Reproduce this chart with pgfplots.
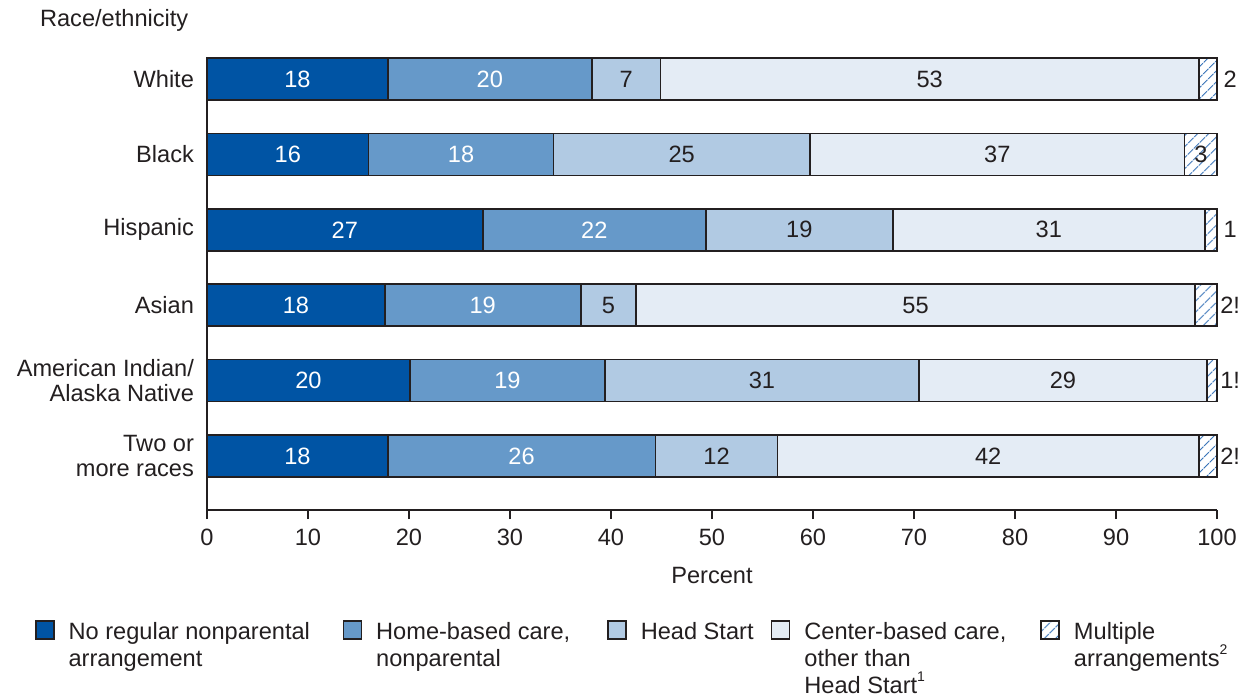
\documentclass[border=0pt]{standalone}
\usepackage{pgfplots}
\pgfplotsset{compat=1.18}
\usepackage{pgfplotstable}
\usetikzlibrary{patterns.meta}
\usepackage{fontspec}
\setmainfont{Liberation Sans}
\definecolor{c1}{HTML}{0054A4}
\definecolor{c2}{HTML}{6699C9}
\definecolor{c3}{HTML}{B1CAE3}
\definecolor{c4}{HTML}{E4ECF5}
\definecolor{hatch}{HTML}{2F6DB5}
\definecolor{edge}{HTML}{231F20}
\definecolor{txt}{HTML}{231F20}
\newcommand\lab{\fontsize{11.8}{12.5}\selectfont}
\newcommand\leg{\fontsize{11.8}{13.5}\selectfont}
\newcommand\fnsup[1]{\raisebox{0.9ex}{\fontsize{7}{7}\selectfont #1}}

\pgfplotstableread{
y a    b    c    d    e   es   la lb lc ld le
5 17.9 20.2 6.8  53.3 1.8 2.2  18 20 7  53 2
4 16.0 18.3 25.4 37.1 3.2 0.0  16 18 25 37 3
3 27.3 22.1 18.5 30.9 1.2 1.9  27 22 19 31 1
2 17.6 19.4 5.5  55.3 2.2 2.4  18 19 5  55 2!
1 20.1 19.3 31.1 28.5 1.0 1.8  20 19 31 29 1!
0 17.9 26.5 12.1 41.7 1.8 2.2  18 26 12 42 2!
}\data

\pgfplotsset{
  seglabel/.style={nodes near coords, point meta=explicit symbolic,
    every node near coord/.append style={anchor=center, font=\lab, inner sep=0pt}},
}

\begin{document}
\begin{tikzpicture}[font=\lab, text=txt]
\begin{axis}[
  name=ax, at={(0,0)}, anchor=south west,
  scale only axis, width=505pt, height=226pt,
  xbar stacked, bar width=0.557,
  xmin=0, xmax=100, ymin=-0.716, ymax=5.2785,
  clip=false,
  axis x line*=bottom, axis y line*=left,
  axis line style={draw=edge, line width=0.8pt},
  xtick={0,10,...,100}, xtick align=outside, major tick length=4.5pt,
  xtick style={draw=edge, line width=0.8pt},
  ytick={0,1,2,3,4,5},
  yticklabels={{Two or\\more races},{American Indian/\\Alaska Native},Asian,Hispanic,Black,White},
  ytick style={draw=none},
  yticklabel style={align=right, font=\lab, xshift=-3pt},
  xticklabel style={font=\lab, yshift=-1.5pt},
  /pgf/number format/assume math mode=true,
  xlabel={Percent},
  xlabel style={at={(axis description cs:0.5,0)}, anchor=base, yshift=-36.5pt, font=\lab},
  legend columns=5,
  legend image code/.code={\draw[#1] (0pt,0pt) rectangle (9pt,9pt);},
  legend style={draw=none, fill=none, inner sep=0pt, outer sep=0pt,
    at={(axis description cs:0,0)}, anchor=north west, xshift=-86pt, yshift=-54pt,
    font=\leg, cells={anchor=base west},
    /tikz/every odd column/.append style={column sep=5pt}},
]
\addplot[fill=c1, draw=edge, line width=0.8pt, seglabel,
  every node near coord/.append style={text=white}]
  table[x=a, y=y, meta=la] {\data};
\addlegendentry{\parbox[t]{135pt}{No regular nonparental\\arrangement}}
\addplot[fill=c2, draw=edge, line width=0.8pt, seglabel,
  every node near coord/.append style={text=white}]
  table[x=b, y=y, meta=lb] {\data};
\addlegendentry{\parbox[t]{113.5pt}{Home-based care,\\nonparental}}
\addplot[fill=c3, draw=edge, line width=0.8pt, seglabel,
  every node near coord/.append style={text=txt}]
  table[x=c, y=y, meta=lc] {\data};
\addlegendentry{\parbox[t]{63pt}{Head Start}}
\addplot[fill=c4, draw=edge, line width=0.8pt, seglabel,
  every node near coord/.append style={text=txt}]
  table[x=d, y=y, meta=ld] {\data};
\addlegendentry{\parbox[t]{116pt}{Center-based care,\\other than\\Head Start\fnsup{1}}}
\addplot[pattern={Lines[angle=45,distance=4pt,line width=0.5pt]}, pattern color=hatch,
  draw=edge, line width=0.8pt,
  nodes near coords, point meta=explicit symbolic,
  visualization depends on={\thisrow{es} \as \segshift},
  every node near coord/.append style={anchor=center, font=\lab, inner sep=0pt, text=txt,
    shift={(axis direction cs:\segshift,0)}}]
  table[x=e, y=y, meta=le] {\data};
\addlegendentry{\parbox[t]{78pt}{Multiple\\arrangements\fnsup{2}}}
\end{axis}
\node[anchor=base west, font=\lab] at ([xshift=-87pt,yshift=15.75pt]ax.north west) {Race/ethnicity};
\pgfresetboundingbox
\path ([xshift=-103.5pt,yshift=-94pt]ax.south west) rectangle ([xshift=520.5pt,yshift=255pt]ax.south west);
\end{tikzpicture}
\end{document}
